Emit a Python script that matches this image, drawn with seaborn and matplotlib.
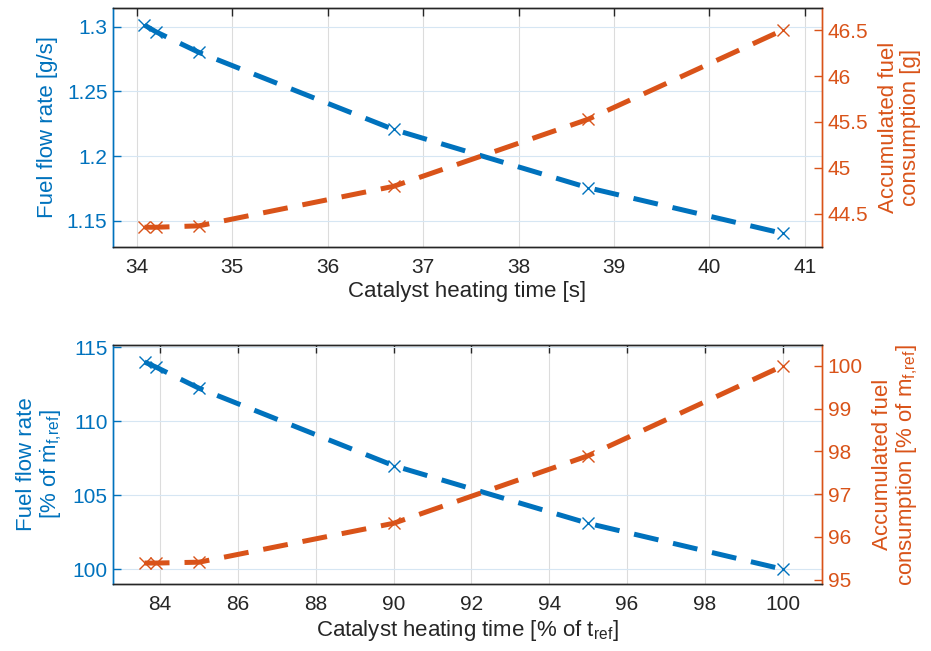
import numpy as np
import pandas as pd
import matplotlib
matplotlib.use("Agg")
import matplotlib.pyplot as plt
import seaborn as sns
from matplotlib.ticker import FuncFormatter, FixedLocator

# ---------------- data ----------------
heat_time_s = [34.08, 34.20, 34.65, 36.69, 38.73, 40.77]
fuel_rate_gs = [1.3013, 1.2961, 1.2802, 1.2206, 1.1755, 1.1402]
fuel_acc_g = [44.355, 44.355, 44.37, 44.80, 45.53, 46.50]

heat_time_pct = [83.6, 83.9, 85.0, 90.0, 95.0, 100.0]
fuel_rate_pct = [114.0, 113.65, 112.23, 107.0, 103.1, 100.0]
fuel_acc_pct = [95.39, 95.39, 95.41, 96.32, 97.90, 100.0]

top_xticks = [34, 35, 36, 37, 38, 39, 40, 41]
top_lticks = [1.15, 1.2, 1.25, 1.3]
top_rticks = [44.5, 45, 45.5, 46, 46.5]
bot_xticks = [84, 86, 88, 90, 92, 94, 96, 98, 100]
bot_lticks = [100, 105, 110, 115]
bot_rticks = [95, 96, 97, 98, 99, 100]

# ---------------- style ----------------
sns.set_theme(style="white")
plt.rcParams["font.family"] = ["Liberation Sans", "DejaVu Sans"]
plt.rcParams["mathtext.fontset"] = "custom"
plt.rcParams["mathtext.rm"] = "Liberation Sans"
plt.rcParams["mathtext.it"] = "Liberation Sans:italic"
plt.rcParams["mathtext.bf"] = "Liberation Sans:bold"

BLUE = "#0072BD"
ORANGE = "#D95319"
DARK = "#262626"
FS = 15
LFS = 16

fig = plt.figure(figsize=(9.31, 6.51), dpi=100)
W, H = 931, 651


def box(l, t, r, b):
    return [l / W, 1 - b / H, (r - l) / W, (b - t) / H]


fmt = FuncFormatter(lambda v, p: "%g" % round(v, 4))


def make_panel(rect, x, yl, yr, xticks, lticks, rticks, xlim, ylim_l, ylim_r,
               xlabel, ylabel_l, ylabel_r):
    ax = fig.add_axes(rect)
    ax2 = ax.twinx()
    df = pd.DataFrame({"x": x, "yl": yl, "yr": yr})
    for a, col, c in ((ax, "yl", BLUE), (ax2, "yr", ORANGE)):
        sns.lineplot(data=df, x="x", y=col, ax=a, color=c, lw=3.6,
                     linestyle=(0, (5, 3)), marker="x", markersize=8.5,
                     markeredgewidth=1.0, markeredgecolor=c,
                     markerfacecolor=c)
    ax.set_xlim(*xlim)
    ax.set_ylim(*ylim_l)
    ax2.set_ylim(*ylim_r)
    ax.xaxis.set_major_locator(FixedLocator(xticks))
    ax.yaxis.set_major_locator(FixedLocator(lticks))
    ax2.yaxis.set_major_locator(FixedLocator(rticks))
    ax.yaxis.set_major_formatter(fmt)
    ax2.yaxis.set_major_formatter(fmt)
    ax.xaxis.set_major_formatter(fmt)

    # grid
    ax.grid(True, axis="x", color="#dcdcdc", lw=0.8)
    ax.grid(True, axis="y", color="#d6e6f3", lw=0.8)
    ax2.grid(False)
    ax.set_axisbelow(True)

    # spines
    for a in (ax, ax2):
        a.spines["top"].set_color(DARK)
        a.spines["bottom"].set_color(DARK)
        a.spines["left"].set_color(BLUE)
        a.spines["right"].set_color(ORANGE)
        for s in a.spines.values():
            s.set_linewidth(1.0)
            s.set_visible(True)

    ax.tick_params(axis="x", direction="in", length=6, width=1.0, colors=DARK,
                   labelsize=FS, top=True, pad=8)
    ax.tick_params(axis="y", direction="in", length=6, width=1.0, colors=BLUE,
                   labelsize=FS, left=True, right=False, pad=4)
    ax2.tick_params(axis="y", direction="in", length=6, width=1.0,
                    colors=ORANGE, labelsize=FS, right=True, left=False, pad=4)
    ax2.tick_params(axis="x", top=False, bottom=False)

    ax.set_xlabel(xlabel, fontsize=LFS, color=DARK, labelpad=3)
    ax.set_ylabel(ylabel_l, fontsize=LFS, color=BLUE, labelpad=6,
                  linespacing=1.05)
    ax2.set_ylabel(ylabel_r, fontsize=LFS, color=ORANGE, labelpad=7,
                   linespacing=1.05)
    return ax, ax2


make_panel(box(113, 8, 822, 247), heat_time_s, fuel_rate_gs, fuel_acc_g,
           top_xticks, top_lticks, top_rticks,
           (33.75, 41.18), (1.1297, 1.3145), (44.14, 46.74),
           "Catalyst heating time [s]", "Fuel flow rate [g/s]",
           "Accumulated fuel\nconsumption [g]")

make_panel(box(113, 345, 822, 584), heat_time_pct, fuel_rate_pct, fuel_acc_pct,
           bot_xticks, bot_lticks, bot_rticks,
           (82.79, 101.01), (99.0, 115.15), (94.9, 100.49),
           r"Catalyst heating time [% of t$_{\mathrm{ref}}$]",
           "Fuel flow rate\n" + r"[% of $\dot{\mathrm{m}}_{\mathrm{f{,}ref}}$]",
           "Accumulated fuel\n" + r"consumption [% of m$_{\mathrm{f{,}ref}}$]")

fig.savefig("out.png", dpi=100, facecolor="white")
